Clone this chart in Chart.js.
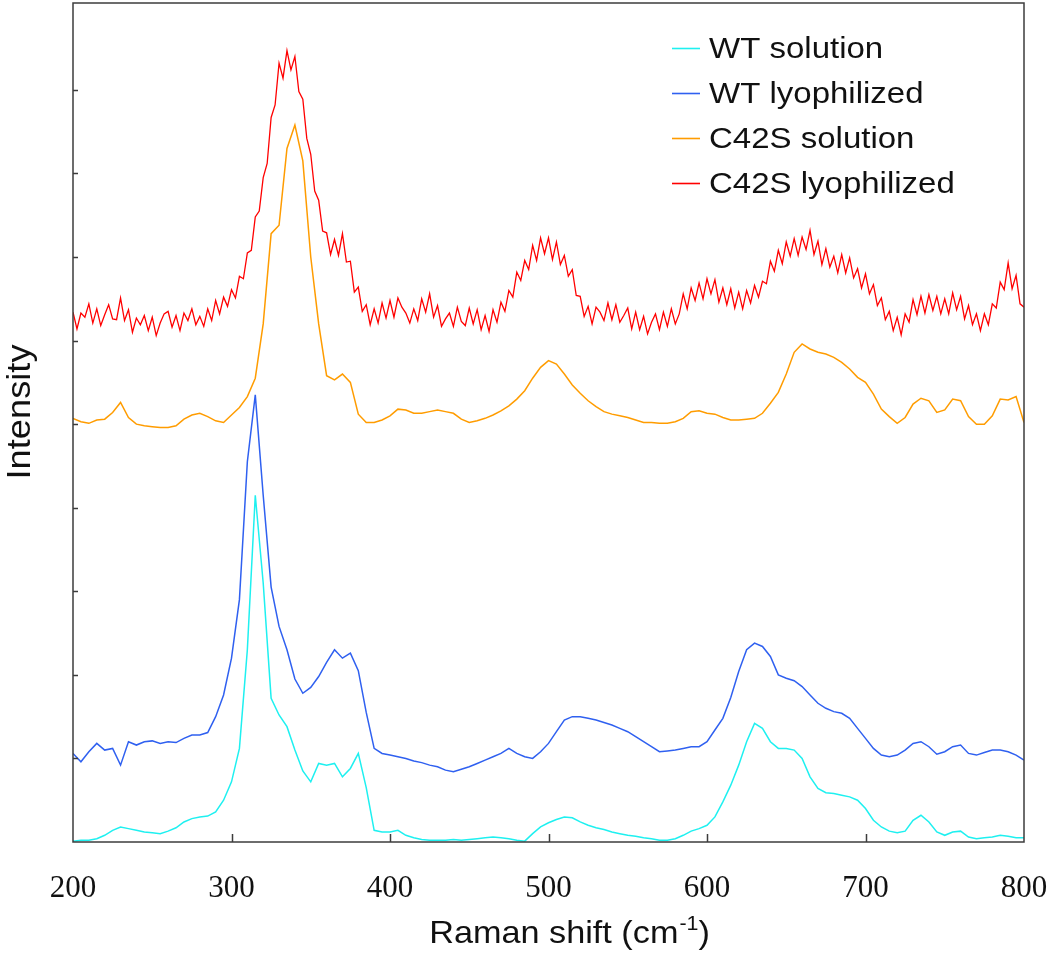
<!DOCTYPE html>
<html>
<head>
<meta charset="utf-8">
<title>Raman spectra</title>
<script src="https://cdn.jsdelivr.net/npm/chart.js@4.4.1/dist/chart.umd.min.js"></script>
<style>
  body { margin: 0; background: #fff; }
  canvas { display: block; }
</style>
</head>
<body>
<canvas id="spectra" width="1050" height="955"></canvas>
<script>
// sampling of the spectra (cm-1)
const shiftStart = 200;
const shiftStep = 5;
const redStep = 2.5;

const seriesNames = ["WT solution", "WT lyophilized", "C42S solution", "C42S lyophilized"];
const seriesColors = ["#1ef0f0", "#2f60f0", "#ff9c00", "#ff0000"];
const xTicks = [200, 300, 400, 500, 600, 700, 800];
const yTicks = [1, 2, 3, 4, 5, 6, 7, 8, 9];

// one row = 50 cm-1
const wtSolution = [
  0.01,0.02,0.02,0.04,0.08,0.14,0.18,0.16,0.14,0.12,
  0.11,0.10,0.13,0.17,0.24,0.28,0.30,0.31,0.36,0.50,
  0.72,1.12,2.30,4.15,3.10,1.72,1.52,1.38,1.10,0.85,
  0.72,0.94,0.92,0.94,0.78,0.88,1.06,0.65,0.14,0.12,
  0.12,0.14,0.08,0.05,0.03,0.02,0.02,0.02,0.03,0.02,
  0.03,0.04,0.05,0.06,0.05,0.04,0.02,0.01,0.10,0.18,
  0.23,0.27,0.30,0.29,0.24,0.20,0.17,0.15,0.12,0.10,
  0.08,0.07,0.05,0.04,0.02,0.02,0.04,0.08,0.13,0.16,
  0.20,0.30,0.48,0.68,0.92,1.20,1.42,1.36,1.20,1.12,
  1.12,1.10,1.00,0.78,0.64,0.59,0.58,0.56,0.54,0.50,
  0.40,0.26,0.18,0.13,0.11,0.13,0.26,0.32,0.24,0.12,
  0.08,0.12,0.13,0.06,0.04,0.05,0.06,0.08,0.07,0.05,
  0.05
];

const wtLyophilized = [
  1.06,0.96,1.08,1.18,1.10,1.12,0.92,1.20,1.16,1.20,
  1.21,1.18,1.20,1.19,1.24,1.28,1.28,1.31,1.50,1.76,
  2.20,2.90,4.55,5.35,4.15,3.05,2.58,2.30,1.95,1.78,
  1.85,1.98,2.15,2.30,2.20,2.26,2.05,1.55,1.12,1.06,
  1.04,1.02,1.00,0.97,0.95,0.92,0.90,0.86,0.84,0.87,
  0.90,0.94,0.98,1.02,1.06,1.12,1.06,1.02,1.00,1.08,
  1.18,1.32,1.46,1.50,1.50,1.48,1.46,1.43,1.40,1.36,
  1.32,1.26,1.20,1.14,1.08,1.09,1.10,1.12,1.14,1.14,
  1.20,1.34,1.48,1.73,2.04,2.30,2.38,2.34,2.22,2.00,
  1.96,1.93,1.86,1.76,1.66,1.60,1.56,1.54,1.48,1.36,
  1.24,1.12,1.04,1.02,1.04,1.10,1.18,1.20,1.14,1.05,
  1.08,1.14,1.16,1.06,1.04,1.07,1.10,1.10,1.08,1.04,
  0.98
];

const c42sSolution = [
  5.07,5.03,5.01,5.05,5.06,5.14,5.26,5.08,5.00,4.98,
  4.97,4.96,4.96,4.98,5.06,5.11,5.13,5.09,5.04,5.02,
  5.11,5.20,5.33,5.55,6.20,7.28,7.38,8.30,8.58,8.15,
  7.00,6.20,5.58,5.53,5.60,5.50,5.12,5.02,5.02,5.05,
  5.10,5.18,5.17,5.13,5.13,5.15,5.17,5.15,5.13,5.06,
  5.02,5.04,5.07,5.11,5.16,5.22,5.30,5.40,5.55,5.68,
  5.76,5.72,5.60,5.47,5.37,5.28,5.21,5.15,5.12,5.10,
  5.08,5.05,5.02,5.02,5.01,5.01,5.03,5.07,5.15,5.16,
  5.13,5.12,5.08,5.05,5.05,5.06,5.07,5.13,5.25,5.38,
  5.60,5.86,5.96,5.90,5.86,5.84,5.80,5.74,5.66,5.56,
  5.50,5.36,5.18,5.09,5.01,5.08,5.24,5.31,5.28,5.14,
  5.17,5.30,5.28,5.09,5.00,5.00,5.10,5.30,5.29,5.33,
  5.02
];

// noisier trace, read at 2.5 cm-1
const c42sLyophilized = [
  6.34,6.14,6.33,6.28,6.44,6.21,6.38,6.18,6.31,6.43,6.26,6.25,6.51,6.24,6.37,6.10,6.27,6.19,6.30,6.12,
  6.28,6.06,6.21,6.32,6.35,6.16,6.30,6.12,6.33,6.24,6.38,6.19,6.29,6.17,6.38,6.24,6.48,6.32,6.52,6.41,
  6.61,6.51,6.77,6.74,7.05,7.08,7.48,7.55,7.95,8.12,8.67,8.82,9.32,9.14,9.47,9.24,9.40,8.98,8.89,8.42,
  8.23,7.79,7.68,7.31,7.29,7.03,7.21,7.02,7.28,6.94,6.95,6.58,6.64,6.35,6.43,6.19,6.38,6.21,6.45,6.27,
  6.48,6.28,6.51,6.40,6.33,6.21,6.38,6.24,6.50,6.34,6.56,6.28,6.42,6.17,6.26,6.33,6.17,6.40,6.23,6.18,
  6.39,6.20,6.37,6.13,6.30,6.11,6.37,6.22,6.46,6.35,6.60,6.52,6.82,6.72,6.96,6.85,7.14,6.96,7.23,7.04,
  7.23,6.97,7.18,6.91,7.02,6.77,6.85,6.54,6.53,6.29,6.41,6.20,6.40,6.34,6.24,6.45,6.25,6.43,6.22,6.30,
  6.39,6.14,6.34,6.13,6.29,6.08,6.22,6.32,6.13,6.34,6.17,6.38,6.20,6.32,6.56,6.38,6.63,6.48,6.69,6.50,
  6.74,6.56,6.73,6.46,6.63,6.43,6.62,6.39,6.58,6.38,6.60,6.45,6.66,6.52,6.71,6.68,6.95,6.83,7.08,6.92,
  7.18,7.01,7.22,7.02,7.24,7.09,7.32,7.03,7.19,6.91,7.10,6.88,7.01,6.81,7.03,6.81,6.99,6.75,6.86,6.63,
  6.80,6.56,6.67,6.42,6.51,6.25,6.35,6.12,6.28,6.07,6.32,6.22,6.49,6.31,6.53,6.33,6.55,6.36,6.53,6.32,
  6.50,6.32,6.57,6.37,6.53,6.26,6.42,6.19,6.32,6.12,6.32,6.19,6.44,6.39,6.70,6.61,6.93,6.62,6.78,6.44,
  6.40
];

function toPoints(values, step){
  return values.map((v, i) => ({ x: shiftStart + i * step, y: v }));
}

const allSeries = [
  toPoints(wtSolution, shiftStep),
  toPoints(wtLyophilized, shiftStep),
  toPoints(c42sSolution, shiftStep),
  toPoints(c42sLyophilized, redStep)
];

// box, inward ticks, axis titles and the legend
const decorations = {
  id: 'decorations',
  afterDraw(chart){
    const ctx = chart.ctx;
    const a = chart.chartArea;
    const xs = chart.scales.x, ys = chart.scales.y;

    ctx.save();
    ctx.strokeStyle = '#3c3c3c';
    ctx.lineWidth = 1.5;
    ctx.strokeRect(a.left, a.top, a.right - a.left, a.bottom - a.top);

    ctx.beginPath();
    xTicks.slice(1, -1).forEach(v => {
      const px = Math.round(xs.getPixelForValue(v)) + 0.5;
      ctx.moveTo(px, a.bottom);
      ctx.lineTo(px, a.bottom - 8);
    });
    yTicks.forEach(v => {
      const py = Math.round(ys.getPixelForValue(v)) + 0.5;
      ctx.moveTo(a.left, py);
      ctx.lineTo(a.left + 5, py);
    });
    ctx.stroke();

    ctx.fillStyle = '#111';
    ctx.textBaseline = 'alphabetic';

    // x title with superscript
    const big = '32px "Liberation Sans", Arial, sans-serif';
    const small = '20px "Liberation Sans", Arial, sans-serif';
    const stretch = 1.07;
    ctx.font = big;
    const w1 = ctx.measureText('Raman shift (cm').width;
    const w3 = ctx.measureText(')').width;
    ctx.font = small;
    const w2 = ctx.measureText('-1').width;
    const total = (w1 + w2 + w3) * stretch;
    ctx.save();
    ctx.translate(569 - total / 2, 943);
    ctx.scale(stretch, 1);
    ctx.font = big;
    ctx.textAlign = 'left';
    ctx.fillText('Raman shift (cm', 0, 0);
    ctx.font = small;
    ctx.fillText('-1', w1 + 1, -13);
    ctx.font = big;
    ctx.fillText(')', w1 + w2 + 1, 0);
    ctx.restore();

    // y title
    ctx.save();
    ctx.translate(30, 412);
    ctx.rotate(-Math.PI / 2);
    ctx.scale(1.1, 1);
    ctx.font = '33px "Liberation Sans", Arial, sans-serif';
    ctx.textAlign = 'center';
    ctx.fillText('Intensity', 0, 0);
    ctx.restore();

    // legend
    const rows = [48, 93, 138, 183];
    seriesNames.forEach((name, i) => {
      ctx.strokeStyle = seriesColors[i];
      ctx.lineWidth = 1.6;
      ctx.beginPath();
      ctx.moveTo(672, rows[i] + 0.5);
      ctx.lineTo(700, rows[i] + 0.5);
      ctx.stroke();
      ctx.save();
      ctx.translate(709, rows[i] + 10);
      ctx.scale(1.1, 1);
      ctx.font = '30px "Liberation Sans", Arial, sans-serif';
      ctx.textAlign = 'left';
      ctx.fillStyle = '#111';
      ctx.fillText(name, 0, 0);
      ctx.restore();
    });
    ctx.restore();
  }
};

new Chart(document.getElementById('spectra'), {
  type: 'line',
  data: {
    datasets: allSeries.map((pts, i) => ({
      label: seriesNames[i],
      data: pts,
      borderColor: seriesColors[i],
      borderWidth: i == 3 ? 1.3 : 1.5,
      pointRadius: 0,
      tension: 0,
      fill: false
    }))
  },
  options: {
    responsive: false,
    animation: false,
    layout: { padding: { left: 73, right: 26, top: 3, bottom: 0 } },
    plugins: {
      legend: { display: false },
      tooltip: { enabled: false }
    },
    scales: {
      x: {
        type: 'linear',
        min: 200,
        max: 800,
        afterFit(scale){
          scale.height = 113;
          // labels at the ends fit inside the padding already
          scale.paddingLeft = 0;
          scale.paddingRight = 0;
        },
        grid: { display: false, drawTicks: false },
        border: { display: false },
        ticks: {
          stepSize: 100,
          padding: 28,
          autoSkip: false,
          maxRotation: 0,
          color: '#111',
          font: { family: '"Liberation Serif", "Times New Roman", serif', size: 31 }
        }
      },
      y: {
        display: false,
        min: 0,
        max: 10.04
      }
    }
  },
  plugins: [decorations]
});
</script>
</body>
</html>
